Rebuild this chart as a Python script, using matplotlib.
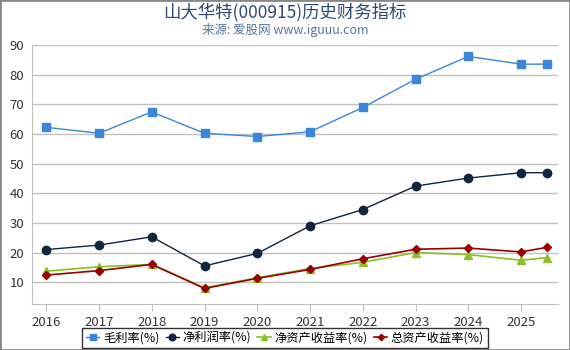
import matplotlib
matplotlib.use('Agg')
import matplotlib.pyplot as plt
from matplotlib.patches import Rectangle

plt.rcParams['font.family'] = ['Noto Sans CJK SC', 'DejaVu Sans']

x_pos = [2016, 2017, 2018, 2019, 2020, 2021, 2022, 2023, 2024, 2025, 2025.5]
tick_years = [2016, 2017, 2018, 2019, 2020, 2021, 2022, 2023, 2024, 2025]

gross = [62.3, 60.3, 67.5, 60.3, 59.2, 60.8, 69.0, 78.5, 86.2, 83.6, 83.6]
net = [21.1, 22.6, 25.4, 15.6, 19.8, 29.1, 34.6, 42.5, 45.2, 47.0, 47.0]
roe = [13.8, 15.3, 16.1, 8.2, 11.6, 14.7, 16.8, 20.1, 19.4, 17.5, 18.4]
roa = [12.5, 14.0, 16.1, 8.0, 11.4, 14.4, 18.0, 21.2, 21.6, 20.3, 21.9]

fig = plt.figure(figsize=(5.7, 3.5), dpi=100)
ax = fig.add_axes([0.057, 0.131, 0.922, 0.74])

ax.plot(x_pos, gross, color='#3a87d9', lw=1, marker='s', ms=6, label='毛利率(%)')
ax.plot(x_pos, net, color='#0f2540', lw=1, marker='o', ms=6, label='净利润率(%)')
ax.plot(x_pos, roe, color='#8cbf26', lw=1.2, marker='^', ms=6, label='净资产收益率(%)')
ax.plot(x_pos, roa, color='#990000', lw=1.2, marker='D', ms=4, label='总资产收益率(%)')

ax.set_xlim(2015.74, 2025.7)
ax.set_ylim(2.7, 90)
ax.set_yticks(range(10, 91, 10))
ax.set_xticks(tick_years)
ax.grid(axis='y', color='#c0c0c0', lw=1)
ax.set_axisbelow(True)
for s in ['top', 'right']:
    ax.spines[s].set_visible(False)
ax.spines['left'].set_color('#c0c0c0')
ax.spines['bottom'].set_color('#c0c0c0')
ax.tick_params(axis='y', length=0, pad=6, labelsize=9.5, labelcolor='#333333')
ax.tick_params(axis='x', length=5, color='#c0c0c0', labelsize=9.5, labelcolor='#333333')

fig.text(0.5, 0.965, '山大华特(000915)历史财务指标', ha='center', va='center',
         fontsize=12.5, color='#2c4a6e')
fig.text(0.5, 0.915, '来源: 爱股网 www.iguuu.com', ha='center', va='center',
         fontsize=9, color='#5577a0')

leg = fig.legend(loc='center', bbox_to_anchor=(0.5, 0.035), ncol=4, fontsize=8.8,
                 frameon=True, fancybox=False, edgecolor='black', handlelength=1.1,
                 handletextpad=0.3, columnspacing=0.5, borderpad=0.3, borderaxespad=0,
                 markerscale=0.8)
leg.get_frame().set_linewidth(1)

fig.patches.append(Rectangle((0, 0), 1, 1, transform=fig.transFigure, fill=False,
                             edgecolor='#888888', lw=2))

fig.savefig('out.png', dpi=100)
